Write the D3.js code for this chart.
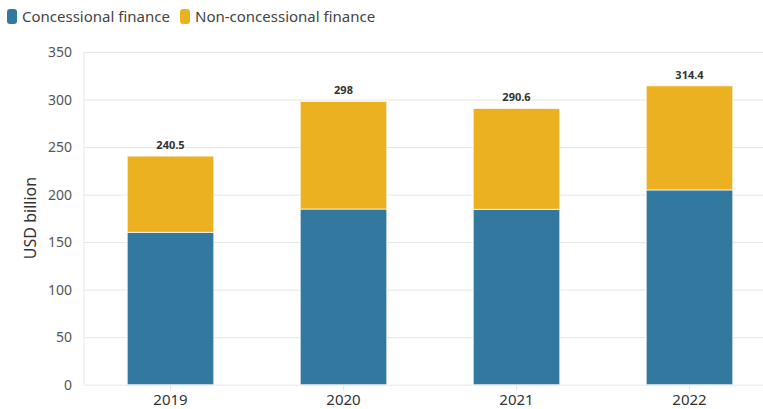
<!DOCTYPE html>
<html>
<head>
<meta charset="utf-8">
<script src="https://cdn.jsdelivr.net/npm/d3@7"></script>
<style>
  body { margin: 0; background: #fff; }
  text { font-family: "Noto Sans", sans-serif; }
</style>
</head>
<body>
<div id="chart"></div>
<script>
  let years = ['2019', '2020', '2021', '2022']
  let concessional = [160.3, 184.8, 184.5, 204.9]
  let totals = [240.5, 298, 290.6, 314.4]
  let nonConcessional = totals.map((t, i) => +(t - concessional[i]).toFixed(1))
  let yTicks = [0, 50, 100, 150, 200, 250, 300, 350]
  let seriesNames = ['Concessional finance', 'Non-concessional finance']
  let colors = ['#33789f', '#ecb120']

  let chartWidth = 763
  let chartHeight = 409
  let plotLeft = 84
  let plotBottom = 384.7
  let plotTop = 52

  let svg = d3.select('#chart')
              .append('svg')
                .attr('width', chartWidth)
                .attr('height', chartHeight)

  let xScale = d3.scaleBand()
                .domain(years)
                .range([plotLeft, 776])
                .paddingInner(0.5)
                .paddingOuter(0.25)

  let yScale = d3.scaleLinear()
                .domain([0, 350])
                .range([plotBottom, plotTop])

  // gridlines + y labels
  let yAxis = svg.append('g')
                .attr('transform', `translate(${plotLeft},0)`)
                .call(d3.axisLeft(yScale).tickValues(yTicks).tickSize(8).tickPadding(4))
  yAxis.select('.domain').remove()
  yAxis.selectAll('.tick line')
    .attr('stroke', '#e6e6e6')
    .attr('x2', chartWidth - plotLeft)
  yAxis.selectAll('.tick text')
    .attr('fill', '#555')
    .attr('font-size', 14)

  svg.append('line')
    .attr('x1', plotLeft).attr('x2', plotLeft)
    .attr('y1', plotTop).attr('y2', plotBottom)
    .attr('stroke', '#e6e6e6')

  let xAxis = svg.append('g')
                .attr('transform', `translate(0,${plotBottom})`)
                .call(d3.axisBottom(xScale).tickSize(6).tickPadding(4))
  xAxis.select('.domain').remove()
  xAxis.selectAll('.tick line').attr('stroke', '#e6e6e6')
  xAxis.selectAll('.tick text')
    .attr('fill', '#333')
    .attr('font-size', 15)

  // stacked bars
  let stackData = years.map((y, i) => ({ year: y, c: concessional[i], n: nonConcessional[i] }))
  let stacked = d3.stack().keys(['c', 'n'])(stackData)

  svg.selectAll('g.layer')
    .data(stacked)
    .enter()
    .append('g')
      .attr('class', 'layer')
      .attr('fill', (d, i) => colors[i])
    .selectAll('rect')
    .data((d) => d)
    .enter()
    .append('rect')
      .attr('x', (d) => xScale(d.data.year))
      .attr('y', (d) => yScale(d[1]))
      .attr('width', xScale.bandwidth())
      .attr('height', (d) => yScale(d[0]) - yScale(d[1]))
      .attr('stroke', '#fff')
      .attr('stroke-opacity', 0.7)
      .attr('stroke-width', 1)

  svg.selectAll('text.total')
    .data(years)
    .enter()
    .append('text')
      .attr('class', 'total')
      .text((d, i) => totals[i])
      .attr('x', (d) => xScale(d) + xScale.bandwidth() / 2)
      .attr('y', (d, i) => yScale(totals[i]) - 7)
      .attr('text-anchor', 'middle')
      .attr('font-size', 11)
      .attr('font-weight', 'bold')
      .attr('fill', '#333')

  // y title
  svg.append('text')
    .text('USD billion')
    .attr('transform', 'translate(36,218) rotate(-90)')
    .attr('text-anchor', 'middle')
    .attr('font-size', 16)
    .attr('fill', '#333')

  // legend
  let legendX = [7, 180]
  seriesNames.forEach((name, i) => {
    svg.append('rect')
      .attr('x', legendX[i]).attr('y', 9)
      .attr('width', 10).attr('height', 15)
      .attr('rx', 3)
      .attr('fill', colors[i])
    svg.append('text')
      .text(name)
      .attr('x', legendX[i] + 15).attr('y', 22)
      .attr('font-size', 15)
      .attr('fill', '#444')
  })
</script>
</body>
</html>
